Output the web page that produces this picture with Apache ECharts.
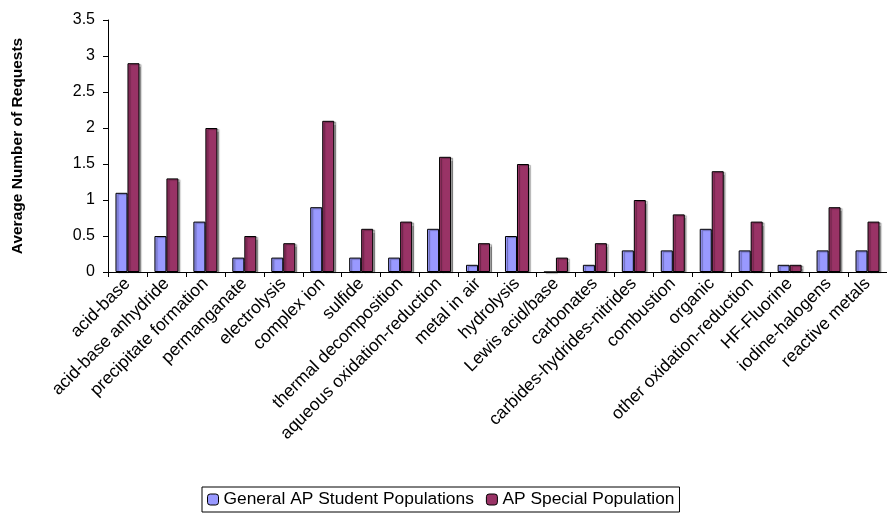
<!DOCTYPE html>
<html>
<head>
<meta charset="utf-8">
<script src="https://cdn.jsdelivr.net/npm/echarts@6/dist/echarts.min.js"></script>
<style>
  html, body { margin: 0; padding: 0; background: #fff; }
  #chart { width: 887px; height: 514px; }
</style>
</head>
<body>
<div id="chart"></div>
<script>
const categories = [
  'acid-base', 'acid-base anhydride', 'precipitate formation', 'permanganate',
  'electrolysis', 'complex ion', 'sulfide', 'thermal decomposition',
  'aqueous oxidation-reduction', 'metal in air', 'hydrolysis', 'Lewis acid/base',
  'carbonates', 'carbides-hydrides-nitrides', 'combustion', 'organic',
  'other oxidation-reduction', 'HF-Fluorine', 'iodine-halogens', 'reactive metals'
];
const generalAP = [1.1, 0.5, 0.7, 0.2, 0.2, 0.9, 0.2, 0.2, 0.6, 0.1, 0.5, 0, 0.1, 0.3, 0.3, 0.6, 0.3, 0.1, 0.3, 0.3];
const specialAP = [2.9, 1.3, 2.0, 0.5, 0.4, 2.1, 0.6, 0.7, 1.6, 0.4, 1.5, 0.2, 0.4, 1.0, 0.8, 1.4, 0.7, 0.1, 0.9, 0.7];
const yTicks = ['0', '0.5', '1', '1.5', '2', '2.5', '3', '3.5'];

const chart = echarts.init(document.getElementById('chart'));
const font = 'Liberation Sans, Arial, sans-serif';
const barShadow = { shadowColor: 'rgba(0,0,0,0.35)', shadowOffsetX: 2, shadowOffsetY: 1, shadowBlur: 1 };
const noShadow = { borderColor: '#000', borderWidth: 1, shadowBlur: 0, shadowOffsetX: 0, shadowOffsetY: 0 };

const option = {
  animation: false,
  textStyle: { fontFamily: font, color: '#000' },
  grid: { left: 108, width: 788, top: 20, bottom: 242 },
  legend: {
    bottom: 2,
    left: 202,
    itemWidth: 11,
    itemHeight: 11,
    itemGap: 12,
    padding: [4, 5],
    borderColor: '#000',
    borderWidth: 1,
    borderRadius: 0,
    textStyle: { fontSize: 17.4, fontFamily: font, color: '#000' },
    data: [
      { name: 'General AP Student Populations', itemStyle: noShadow },
      { name: 'AP Special Population', itemStyle: noShadow }
    ]
  },
  xAxis: {
    type: 'category',
    data: categories,
    boundaryGap: true,
    axisLine: { lineStyle: { color: '#000', width: 1 } },
    axisTick: { show: true, alignWithLabel: false, length: 5, lineStyle: { color: '#000' } },
    axisLabel: {
      interval: 0,
      rotate: 45,
      fontSize: 17.5,
      color: '#000',
      fontFamily: font,
      margin: 9
    }
  },
  yAxis: {
    type: 'value',
    min: 0,
    max: 3.5,
    interval: 0.5,
    name: 'Average Number of Requests',
    nameLocation: 'middle',
    nameGap: 82,
    nameRotate: 90,
    nameTextStyle: { fontSize: 15.5, fontWeight: 'bold', fontFamily: font, color: '#000' },
    splitLine: { show: false },
    axisLine: { show: true, lineStyle: { color: '#000', width: 1 } },
    axisTick: { show: true, length: 5, inside: false, lineStyle: { color: '#000' } },
    axisLabel: {
      fontSize: 16,
      color: '#000',
      fontFamily: font,
      margin: 13,
      formatter: function (v) {
        const i = Math.round(v / 0.5);
        return yTicks[i] !== undefined ? yTicks[i] : v;
      }
    }
  },
  series: [
    {
      name: 'General AP Student Populations',
      type: 'bar',
      data: generalAP,
      barWidth: 12,
      barGap: '0%',
      itemStyle: Object.assign({ color: '#9999FF', borderColor: '#000', borderWidth: 1 }, barShadow)
    },
    {
      name: 'AP Special Population',
      type: 'bar',
      data: specialAP,
      barWidth: 12,
      itemStyle: Object.assign({ color: '#993366', borderColor: '#000', borderWidth: 1 }, barShadow)
    }
  ]
};
option && chart.setOption(option);
</script>
</body>
</html>
